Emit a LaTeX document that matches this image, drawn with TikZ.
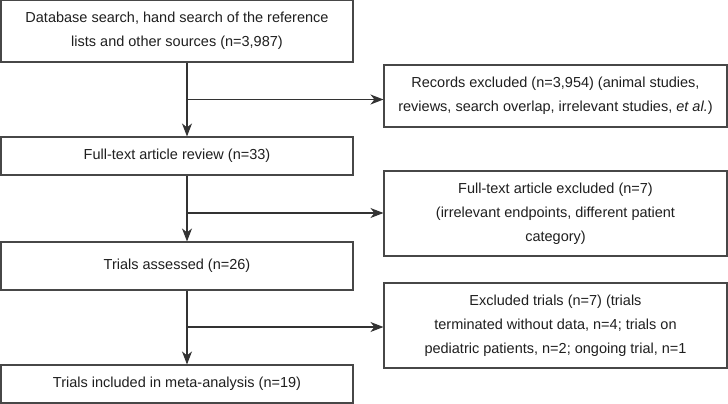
\documentclass[tikz,border=0pt]{standalone}
\usepackage{fontspec}
\setmainfont{Liberation Sans}
\usetikzlibrary{arrows.meta}
\begin{document}
\begin{tikzpicture}[x=1pt,y=-1pt,
  box/.style={draw=black!72,line width=1.1pt,fill=white,align=center,text=black!88,
    font=\fontsize{14.5}{24}\selectfont,inner sep=0pt},
  conn/.style={draw=black!80,line width=1.1pt},
  arr/.style={conn,-{Stealth[length=13pt,width=10pt,inset=4pt]}}]
\useasboundingbox (0,0) rectangle (728,404);
\node[box,minimum width=352pt,minimum height=62pt] (b1) at (177,31)
  {Database search, hand search of the reference\\lists and other sources (n=3,987)};
\node[box,minimum width=352pt,minimum height=38pt] (b2) at (177,156)
  {Full-text article review (n=33)};
\node[box,minimum width=352pt,minimum height=48pt] (b3) at (177,266)
  {Trials assessed (n=26)};
\node[box,minimum width=352pt,minimum height=38pt] (b4) at (177,384)
  {Trials included in meta-analysis (n=19)};
\node[box,minimum width=343pt,minimum height=62pt] (r1) at (555.5,96)
  {Records excluded (n=3,954) (animal studies,\\reviews, search overlap, irrelevant studies, \textit{et al.})};
\node[box,minimum width=343pt,minimum height=85pt] (r2) at (555.5,213.5)
  {Full-text article excluded (n=7)\\(irrelevant endpoints, different patient\\category)};
\node[box,minimum width=343pt,minimum height=85pt] (r3) at (555.5,325.5)
  {Excluded trials (n=7) (trials\\terminated without data, n=4; trials on\\pediatric patients, n=2; ongoing trial, n=1};
\coordinate (sp) at (187,0);
\coordinate (j1) at (187,99.5);
\coordinate (j2) at (187,213);
\coordinate (j3) at (187,327);
\draw[arr] (b1.south -| sp) -- (b2.north -| sp);
\draw[arr] (b2.south -| sp) -- (b3.north -| sp);
\draw[arr] (b3.south -| sp) -- (b4.north -| sp);
\draw[arr] (j1) -- (j1 -| r1.west);
\draw[arr] (j2) -- (j2 -| r2.west);
\draw[arr] (j3) -- (j3 -| r3.west);
\end{tikzpicture}
\end{document}
